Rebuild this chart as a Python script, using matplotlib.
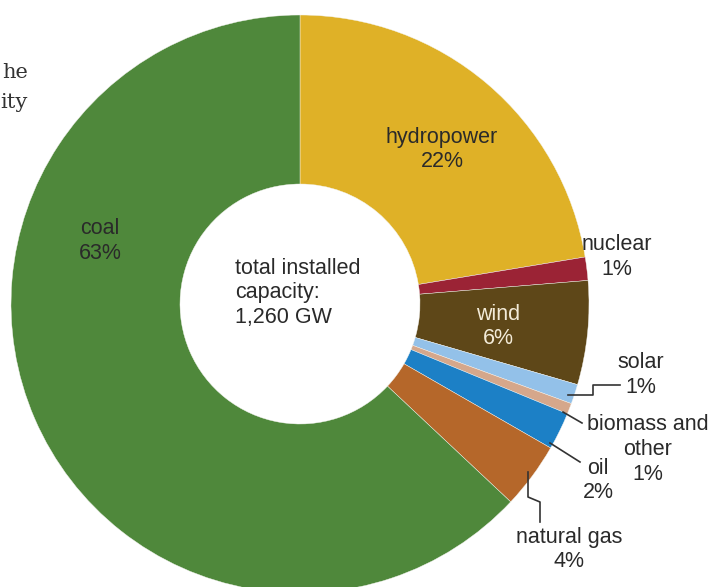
import matplotlib
matplotlib.use("Agg")
import matplotlib.pyplot as plt

# Data (share of total installed capacity, %)
categories = ["hydropower", "nuclear", "wind", "solar", "biomass and other",
              "oil", "natural gas", "coal"]
shares = [22.4, 1.3, 5.8, 1.1, 0.6, 2.1, 3.7, 63.0]
pct_labels = ["22%", "1%", "6%", "1%", "1%", "2%", "4%", "63%"]
colors = ["#DFB127", "#9B2335", "#5E4718", "#93C1E9", "#D5A78B",
          "#1C80C6", "#B5672A", "#4F883B"]
total_label = ["total installed", "capacity:", "1,260 GW"]

W, H = 715, 587
fig = plt.figure(figsize=(W / 100, H / 100), dpi=100)
ax = fig.add_axes([0, 0, 1, 1])

def Y(y):
    return H - y

cx, cy, R = 300, 304, 289
ax.pie(shares, colors=colors, startangle=90, counterclock=False,
       center=(cx, Y(cy)), radius=R, frame=True,
       wedgeprops=dict(width=R - 120, edgecolor="#f4f4f0", linewidth=0.3))
ax.set_xlim(0, W)
ax.set_ylim(0, H)
ax.set_aspect("auto")
ax.axis("off")

font = "Liberation Sans"
fs = 15.5
dark = "#2a2a2a"
step = 24.5

def lab(x, y, lines, color=dark, ha="center"):
    for i, s in enumerate(lines):
        ax.text(x, Y(y + i * step), s, ha=ha, va="center", fontsize=fs,
                family=font, color=color)

# inside labels
lab(100, 229, ["coal", pct_labels[7]])
lab(442, 137, ["hydropower", pct_labels[0]])
lab(498, 314, ["wind", pct_labels[2]], color="#F3EBD8")
# outside labels
lab(617, 245, ["nuclear", pct_labels[1]])
lab(641, 363, ["solar", pct_labels[3]])
lab(648, 425, ["biomass and", "other", pct_labels[4]])
lab(598, 468, ["oil", pct_labels[5]])
lab(569, 537, ["natural gas", pct_labels[6]])

# center text
lab(235, 268, total_label, ha="left")

# leader lines
lc = "#333333"
def line(pts):
    ax.plot([p[0] for p in pts], [Y(p[1]) for p in pts], color=lc, lw=1.2)

line([(568, 395), (593, 395), (593, 385), (620, 385)])
line([(563, 412), (582, 423)])
line([(550, 443), (580, 462)])
line([(528, 472), (528, 497), (540, 502), (540, 522)])

# page text fragments at top-left
ax.text(28, Y(72), "he", ha="right", va="center", fontsize=15,
        family="DejaVu Serif", color="#333333")
ax.text(28, Y(102), "ity", ha="right", va="center", fontsize=15,
        family="DejaVu Serif", color="#333333")

fig.savefig("out.png", dpi=100)
